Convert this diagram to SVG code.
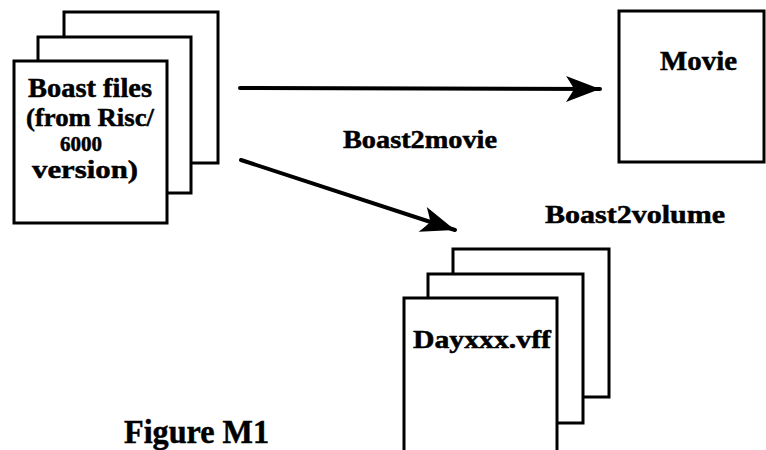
<svg xmlns="http://www.w3.org/2000/svg" width="766" height="450" viewBox="0 0 766 450">
  <style>
    .sheet { fill: #fff; stroke: #000; stroke-width: 3; }
    .lbl { font-family: "Liberation Serif", "Times New Roman", serif; font-weight: bold; fill: #000; stroke: #000; stroke-width: 0.5; }
    .conn { stroke: #000; stroke-width: 4; stroke-linecap: round; fill: none; }
  </style>
  <defs>
    <marker id="ah" markerUnits="userSpaceOnUse" markerWidth="40" markerHeight="30" viewBox="-36 -15 40 30" refX="0" refY="0" orient="auto">
      <path d="M0,0 L-34,-13 Q-28,-4 -26,0 Q-28,4 -34,13 Z" fill="#000"/>
    </marker>
  </defs>
  <rect width="766" height="450" fill="#fff"/>

  <g id="boast-files">
    <rect class="sheet" x="64" y="12" width="154" height="151"/>
    <rect class="sheet" x="38" y="37" width="153" height="156"/>
    <rect class="sheet" x="14" y="61" width="153" height="162"/>
    <text class="lbl" style="font-size:27px" text-anchor="middle" x="90" y="97" textLength="124" lengthAdjust="spacingAndGlyphs">Boast files</text>
    <text class="lbl" style="font-size:26px" text-anchor="middle" x="90" y="126" textLength="128" lengthAdjust="spacingAndGlyphs">(from Risc/</text>
    <text class="lbl" style="font-size:21px" text-anchor="middle" x="81" y="151" textLength="42" lengthAdjust="spacingAndGlyphs">6000</text>
    <text class="lbl" style="font-size:26px" text-anchor="middle" x="85" y="178" textLength="106" lengthAdjust="spacingAndGlyphs">version)</text>
  </g>

  <g id="movie">
    <rect class="sheet" x="619" y="11" width="145" height="151"/>
    <text class="lbl" style="font-size:27px" x="660" y="70" textLength="77" lengthAdjust="spacingAndGlyphs">Movie</text>
  </g>

  <g id="dayxxx">
    <rect class="sheet" x="453" y="249" width="156" height="148"/>
    <rect class="sheet" x="428" y="274" width="155" height="149"/>
    <rect class="sheet" x="404" y="298" width="153" height="160"/>
    <text class="lbl" style="font-size:25px" x="413" y="348" textLength="138" lengthAdjust="spacingAndGlyphs">Dayxxx.vff</text>
  </g>

  <g id="connectors">
    <line class="conn" x1="240" y1="88" x2="600" y2="89" marker-end="url(#ah)"/>
    <line class="conn" x1="241" y1="160" x2="455" y2="230" marker-end="url(#ah)"/>
  </g>

  <g id="labels">
    <text class="lbl" style="font-size:25px" x="343" y="148" textLength="154" lengthAdjust="spacingAndGlyphs">Boast2movie</text>
    <text class="lbl" style="font-size:25px" x="545" y="223" textLength="180" lengthAdjust="spacingAndGlyphs">Boast2volume</text>
    <text class="lbl" style="font-size:34px" x="124" y="443" textLength="145" lengthAdjust="spacingAndGlyphs">Figure M1</text>
  </g>
</svg>
